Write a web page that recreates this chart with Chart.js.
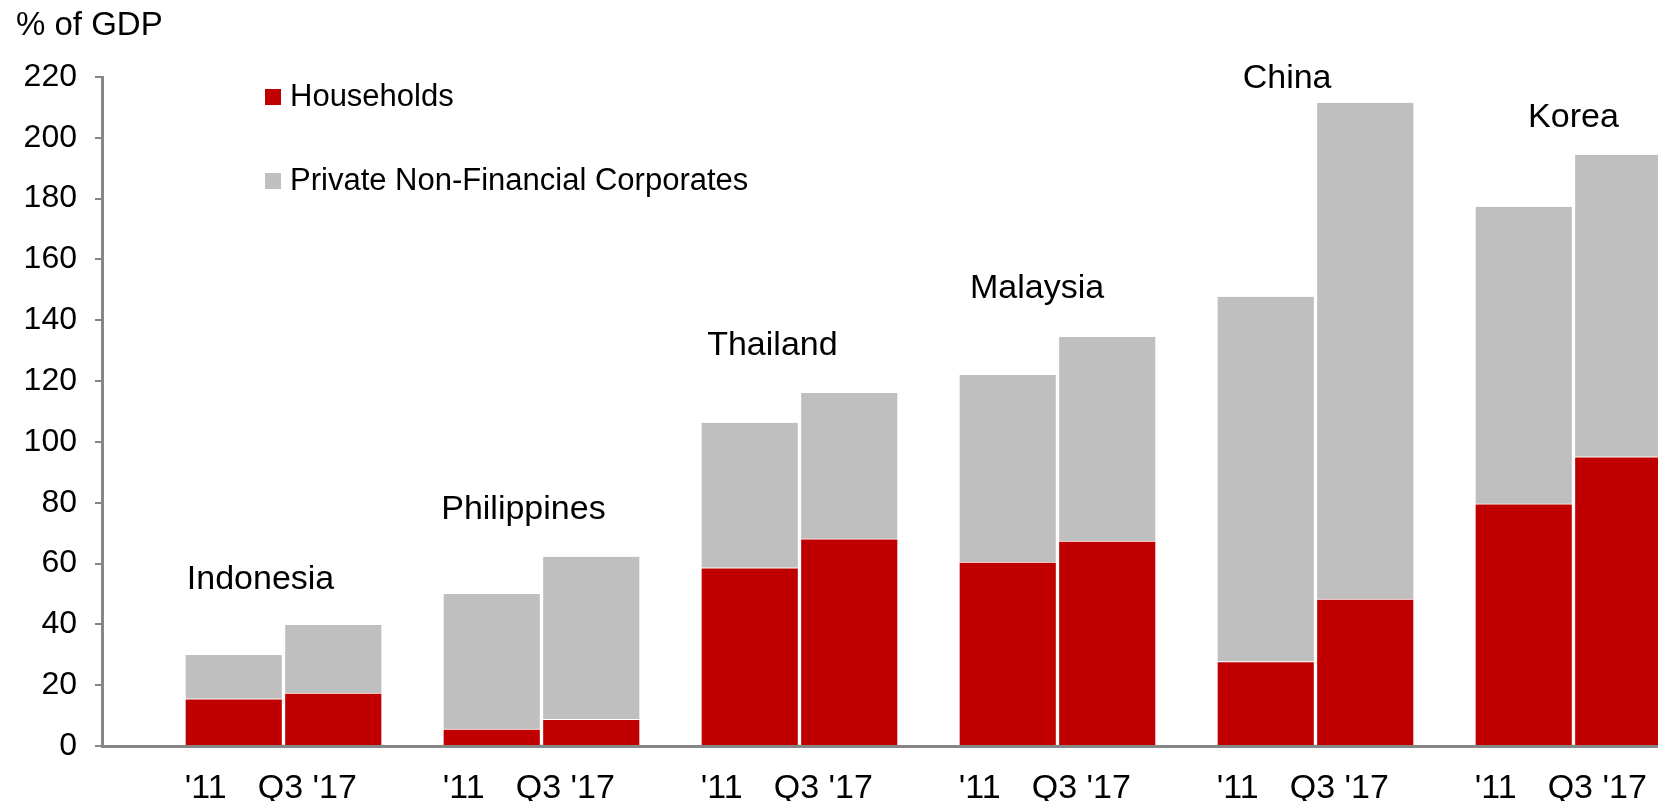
<!DOCTYPE html>
<html>
<head>
<meta charset="utf-8">
<script src="https://cdn.jsdelivr.net/npm/chart.js@4/dist/chart.umd.min.js"></script>
<style>
  html, body { margin: 0; padding: 0; background: #fff; }
  #wrap { width: 1658px; height: 801px; position: relative; }
</style>
</head>
<body>
<div id="wrap"><canvas id="chart"></canvas></div>
<script>
// Debt by sector, % of GDP
const countries = ['Indonesia', 'Philippines', 'Thailand', 'Malaysia', 'China', 'Korea'];
const periods = ["'11", "Q3 '17"];
const households2011 = [15.5, 5.6, 58.6, 60.5, 27.8, 79.6];
const householdsQ317 = [17.4, 8.8, 68.1, 67.4, 48.3, 95.1];
const corporates2011 = [14.4, 44.4, 47.7, 61.5, 119.9, 97.7];
const corporatesQ317 = [22.4, 53.4, 48.0, 67.1, 163.2, 99.3];
const seriesNames = ['Households', 'Private Non-Financial Corporates'];

// where the country names sit: offset from group centre (in groups) and baseline (in % of GDP)
const nameOffsets = [-0.089, -0.07, -0.105, -0.079, -0.11, 0];
const nameBaselines = [51.6, 74.5, 128.6, 147.4, 216.4, 203.6];

const RED = '#C00000';
const GREY = '#BFBFBF';
const AXIS = '#868686';
const FONT = "'Liberation Sans', Arial, sans-serif";

Chart.defaults.font.family = FONT;
Chart.defaults.color = '#000';

const annotations = {
  id: 'annotations',
  afterDatasetsDraw(chart) {
    const ctx = chart.ctx;
    const x = chart.scales.x;
    const y = chart.scales.y;
    const area = chart.chartArea;
    ctx.save();
    ctx.fillStyle = '#000';

    // country names above the bars
    ctx.font = '34px ' + FONT;
    ctx.textAlign = 'center';
    ctx.textBaseline = 'alphabetic';
    countries.forEach((c, i) => {
      ctx.fillText(c, x.getPixelForValue(i + nameOffsets[i]), y.getPixelForValue(nameBaselines[i]));
    });

    // period labels under each bar
    ctx.font = '34px ' + FONT;
    const m11 = chart.getDatasetMeta(0);
    const m17 = chart.getDatasetMeta(2);
    countries.forEach((c, i) => {
      ctx.fillText(periods[0], m11.data[i].x - 28, 798);
      ctx.fillText(periods[1], m17.data[i].x - 26, 798);
    });

    // legend
    ctx.font = '31px ' + FONT;
    ctx.textAlign = 'left';
    ctx.textBaseline = 'middle';
    [RED, GREY].forEach((col, k) => {
      const top = area.top + 12 + k * 84;
      ctx.fillStyle = col;
      ctx.fillRect(area.left + 163, top, 16, 16);
      ctx.fillStyle = '#000';
      ctx.fillText(seriesNames[k], area.left + 188, top + 8);
    });
    ctx.restore();
  }
};

const bar = (label, data, color, stack, line) => ({
  label, data, stack,
  backgroundColor: color,
  borderColor: '#fff',
  borderWidth: { top: line ? 1 : 0, left: 2, right: 2, bottom: 0 },
  borderSkipped: false,
  barThickness: 99.5
});

new Chart(document.getElementById('chart'), {
  type: 'bar',
  data: {
    labels: countries.map((c, i) => i),
    datasets: [
      bar(seriesNames[0] + " '11", households2011, RED, 'y11', true),
      bar(seriesNames[1] + " '11", corporates2011, GREY, 'y11', false),
      bar(seriesNames[0] + " Q3 '17", householdsQ317, RED, 'y17', true),
      bar(seriesNames[1] + " Q3 '17", corporatesQ317, GREY, 'y17', false)
    ]
  },
  options: {
    responsive: true,
    maintainAspectRatio: false,
    animation: false,
    layout: { padding: { left: 16, right: 0, top: 0, bottom: 0 } },
    plugins: {
      legend: { display: false },
      tooltip: { enabled: false },
      title: {
        display: true,
        text: '% of GDP',
        align: 'start',
        color: '#000',
        font: { size: 33, weight: 'normal', family: FONT },
        padding: { top: 6, bottom: 31.4 }
      }
    },
    scales: {
      x: {
        type: 'linear',
        stacked: true,
        offset: false,
        bounds: 'data',
        min: -0.7035,
        max: 5.3276,
        ticks: { display: false, stepSize: 1, includeBounds: false },
        grid: { display: false },
        border: { display: true, color: AXIS, width: 3 },
        afterFit(scale) { scale.height = 55; }
      },
      y: {
        stacked: true,
        min: 0,
        max: 220,
        ticks: { stepSize: 20, padding: 18, color: '#000', font: { size: 32 } },
        grid: { drawOnChartArea: false, drawTicks: true, tickLength: 7, color: AXIS, lineWidth: 2 },
        border: { display: true, color: AXIS, width: 3 },
        afterFit(scale) { scale.width = 86; }
      }
    }
  },
  plugins: [annotations]
});
</script>
</body>
</html>
